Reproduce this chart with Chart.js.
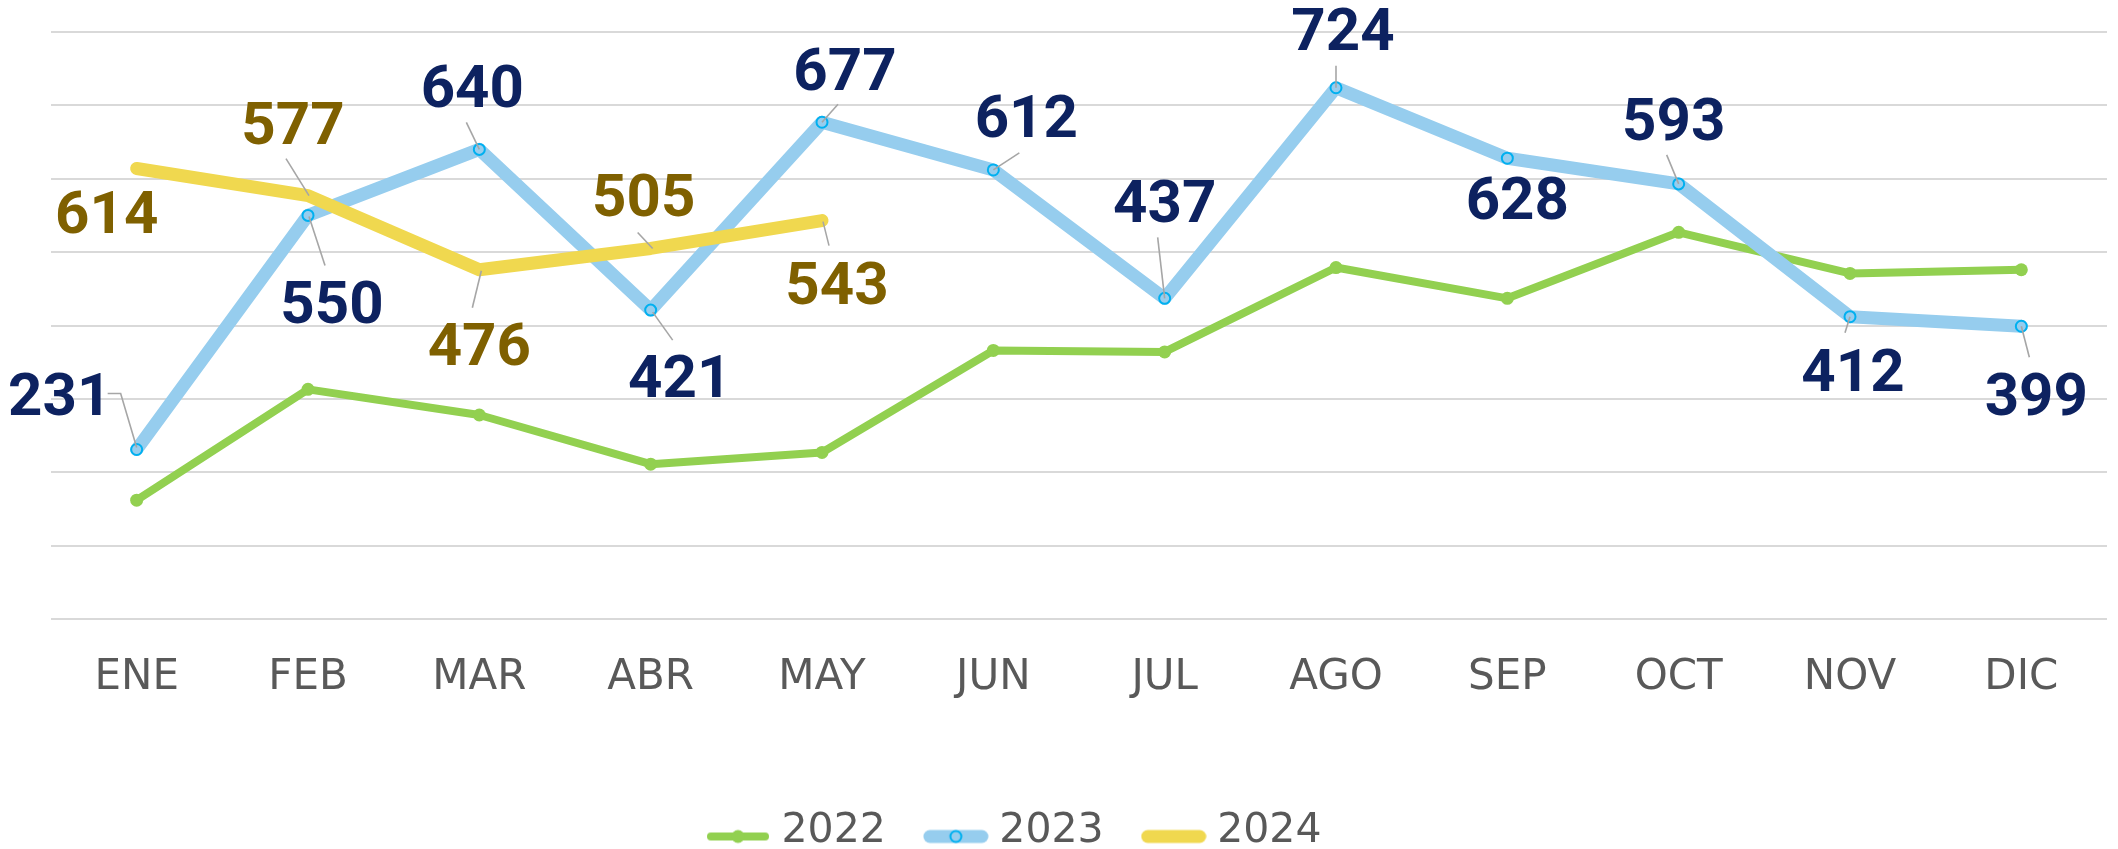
<!DOCTYPE html>
<html>
<head>
<meta charset="utf-8">
<script src="https://cdn.jsdelivr.net/npm/chart.js@4.4.1/dist/chart.umd.min.js"></script>
<style>
html,body{margin:0;padding:0;background:#ffffff;}
#wrap{width:2118px;height:849px;}
</style>
</head>
<body>
<div id="wrap"><canvas id="c" width="2118" height="849"></canvas></div>
<script>
// ---- data ----
const categories = ['ENE','FEB','MAR','ABR','MAY','JUN','JUL','AGO','SEP','OCT','NOV','DIC'];
const series2022 = [162,313,278,211,227,366,364,479,437,527,471,476];
const series2023 = [231,550,640,421,677,612,437,724,628,593,412,399];
const series2024 = [614,577,476,505,543];
const seriesNames = ['2022','2023','2024'];
const yMin = 0, yMax = 800, yStep = 100;

// ---- label placement (pixel offsets from each point; layout only) ----
const labelPos2023 = [
  {dx:-77,dy:-56,lead:[[0,-2],[-16,-56],[-29,-56]]},
  {dx:24,dy:86,lead:[[1,1],[17,50]]},
  {dx:-7,dy:-64,lead:[[0,0],[-13,-27]]},
  {dx:29,dy:66,lead:[[2,2],[22,30]]},
  {dx:23,dy:-54,lead:[[0,0],[16,-18]]},
  {dx:33,dy:-54,lead:[[0,0],[26,-17]]},
  {dx:0,dy:-98,lead:[[0,0],[-7,-61]]},
  {dx:7,dy:-59,lead:[[0,0],[0,-22]]},
  {dx:10,dy:39,lead:null},
  {dx:-5,dy:-65,lead:[[0,0],[-12,-29]]},
  {dx:3,dy:53,lead:[[0,0],[-5,16]]},
  {dx:15,dy:67,lead:[[0,0],[8,31]]}
];
const labelPos2024 = [
  {dx:-30,dy:43,lead:null},
  {dx:-15,dy:-73,lead:[[1,0],[-22,-37]]},
  {dx:0,dy:74,lead:[[2,1],[-7,38]]},
  {dx:-7,dy:-54,lead:[[2,0],[-13,-16]]},
  {dx:15,dy:62,lead:[[1,1],[7,25]]}
];

const GREEN = '#92D050', BLUE = '#96CDEE', BLUE_EDGE = '#00B0F0', YELLOW = '#F0D84F';
const NAVY = '#0D2260', GOLD = '#7F6000', GREY_TXT = '#595959';

// ---- legend icons ----
function makeIcon(kind){
  const cv = document.createElement('canvas');
  cv.width = 66; cv.height = 30;
  const g = cv.getContext('2d');
  const cy = 20;
  g.lineCap = 'round';
  if (kind === 0){
    g.strokeStyle = GREEN; g.lineWidth = 8;
    g.beginPath(); g.moveTo(6,cy); g.lineTo(60,cy); g.stroke();
    g.fillStyle = GREEN; g.beginPath(); g.arc(33,cy,6.5,0,Math.PI*2); g.fill();
  } else if (kind === 1){
    g.strokeStyle = BLUE; g.lineWidth = 13;
    g.beginPath(); g.moveTo(7,cy); g.lineTo(59,cy); g.stroke();
    g.fillStyle = BLUE; g.strokeStyle = BLUE_EDGE; g.lineWidth = 2;
    g.beginPath(); g.arc(33,cy,5.5,0,Math.PI*2); g.fill(); g.stroke();
  } else {
    g.strokeStyle = YELLOW; g.lineWidth = 13;
    g.beginPath(); g.moveTo(7,cy); g.lineTo(59,cy); g.stroke();
  }
  return cv;
}
const legendIcons = [makeIcon(0), makeIcon(1), makeIcon(2)];

// ---- plugins ----
const valueLabels = {
  id: 'valueLabels',
  afterDatasetsDraw(chart, args, opts){
    const ctx = chart.ctx;
    chart.data.datasets.forEach((ds, di) => {
      const cfg = opts.layouts[di];
      if (!cfg) return;
      const meta = chart.getDatasetMeta(di);
      meta.data.forEach((pt, i) => {
        const c = cfg[i];
        if (!c) return;
        const x = pt.x, y = pt.y;
        if (c.lead){
          ctx.save();
          ctx.strokeStyle = '#A6A6A6';
          ctx.lineWidth = 1.6;
          ctx.beginPath();
          c.lead.forEach((p,k) => { if (k) ctx.lineTo(x+p[0], y+p[1]); else ctx.moveTo(x+p[0], y+p[1]); });
          ctx.stroke();
          ctx.restore();
        }
        ctx.save();
        ctx.font = 'bold 60px Roboto';
        ctx.fillStyle = opts.colors[di];
        ctx.textAlign = 'center';
        ctx.textBaseline = 'alphabetic';
        ctx.fillText(String(ds.data[i]), x + c.dx, y + c.dy + 21.3);
        ctx.restore();
      });
    });
  }
};

const legendPlace = {
  id: 'legendPlace',
  afterLayout(chart, args, opts){
    const lg = chart.legend;
    if (!lg) return;
    const w = lg.width, h = lg.height;
    lg.left = opts.left; lg.right = opts.left + w;
    lg.top = opts.top; lg.bottom = opts.top + h;
  }
};

Chart.defaults.font.family = "'DejaVu Sans', sans-serif";
Chart.defaults.color = GREY_TXT;

new Chart(document.getElementById('c'), {
  type: 'line',
  data: {
    labels: categories,
    datasets: [
      {
        label: seriesNames[0], data: series2022, order: 2,
        borderColor: GREEN, backgroundColor: GREEN, borderWidth: 8,
        pointRadius: 6.5, pointBackgroundColor: GREEN, pointBorderWidth: 0, pointHoverRadius: 6.5,
        borderCapStyle: 'round', borderJoinStyle: 'round', tension: 0, fill: false
      },
      {
        label: seriesNames[1], data: series2023, order: 1,
        borderColor: BLUE, backgroundColor: BLUE, borderWidth: 13,
        pointRadius: 5.5, pointBackgroundColor: BLUE, pointBorderColor: BLUE_EDGE, pointBorderWidth: 2,
        borderCapStyle: 'round', borderJoinStyle: 'round', tension: 0, fill: false
      },
      {
        label: seriesNames[2], data: series2024, order: 0,
        borderColor: YELLOW, backgroundColor: YELLOW, borderWidth: 13,
        pointRadius: 0, pointHoverRadius: 0,
        borderCapStyle: 'round', borderJoinStyle: 'round', tension: 0, fill: false
      }
    ]
  },
  options: {
    responsive: false,
    animation: false,
    devicePixelRatio: 1,
    events: [],
    layout: { padding: { top: 32, left: 51, right: 11, bottom: 0 } },
    scales: {
      x: {
        offset: true,
        grid: { display: false },
        border: { display: false },
        ticks: { font: { size: 42 }, color: GREY_TXT, padding: 26, maxRotation: 0, autoSkip: false },
        afterFit(s){ s.height = 132; }
      },
      y: {
        min: yMin, max: yMax,
        ticks: { display: false, stepSize: yStep },
        grid: { color: '#D9D9D9', lineWidth: 2, drawTicks: false },
        border: { display: false },
        afterFit(s){ s.width = 0; }
      }
    },
    plugins: {
      tooltip: { enabled: false },
      legend: {
        position: 'bottom',
        align: 'start',
        labels: {
          usePointStyle: true,
          pointStyleWidth: 46,
          padding: 47,
          font: { size: 41 },
          color: GREY_TXT,
          generateLabels(chart){
            return chart.data.datasets.map((ds, i) => ({
              text: ds.label, pointStyle: legendIcons[i],
              fillStyle: 'rgba(0,0,0,0)', strokeStyle: 'rgba(0,0,0,0)', lineWidth: 0,
              hidden: false, datasetIndex: i, fontColor: GREY_TXT
            }));
          }
        }
      },
      legendPlace: { left: 668, top: 764 },
      valueLabels: { layouts: [null, labelPos2023, labelPos2024], colors: [null, NAVY, GOLD] }
    }
  },
  plugins: [valueLabels, legendPlace]
});
</script>
</body>
</html>
